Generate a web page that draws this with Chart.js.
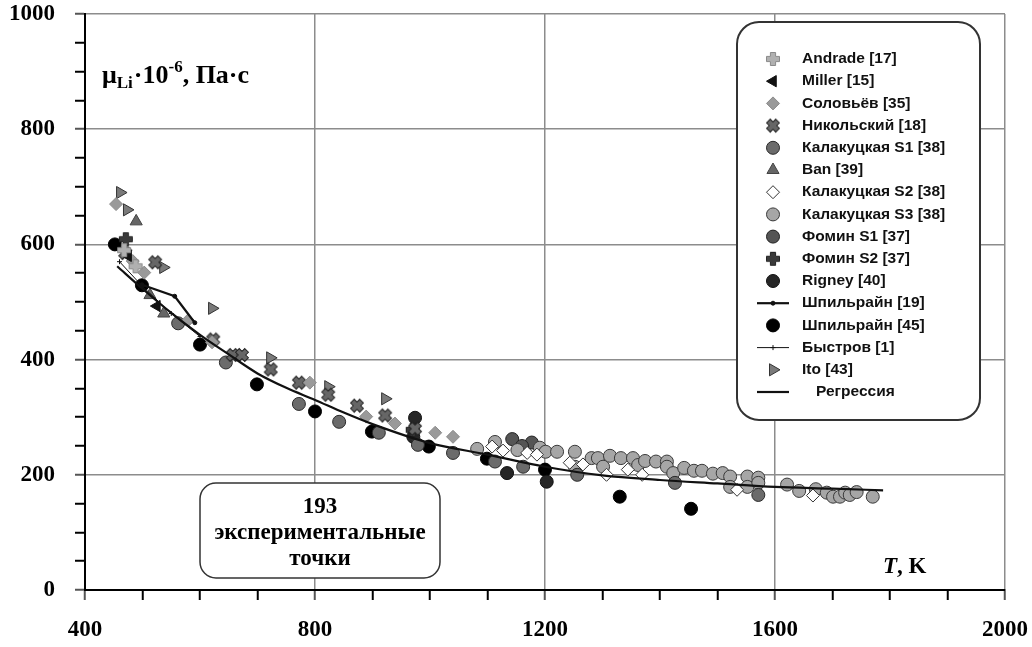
<!DOCTYPE html>
<html><head><meta charset="utf-8">
<script src="https://cdn.jsdelivr.net/npm/chart.js@4.4.1/dist/chart.umd.min.js"></script>
<style>html,body{margin:0;padding:0;background:#fff}canvas{display:block}</style>
</head><body>
<canvas id="c" width="1032" height="647"></canvas>
<script>
// ---- data (T in K, viscosity in 10^-6 Pa·s) ----
const xTicks = [400, 800, 1200, 1600, 2000];
const yTicks = [0, 200, 400, 600, 800, 1000];

const andradeT = [468, 488];
const andradeMu = [590, 562];
const millerT = [475, 525];
const millerMu = [580, 493];
const solovT = [454, 483, 503, 579, 621, 791, 889, 939, 1009, 1040];
const solovMu = [670, 571, 551, 468, 430, 360, 301, 289, 273, 266];
const nikolT = [470, 522, 623, 657, 673, 723, 772, 823, 873, 922, 974];
const nikolMu = [585, 569, 435, 408, 408, 383, 360, 339, 320, 303, 280];
const kal1T = [562, 645, 772, 842, 911, 979, 1040, 1113, 1162, 1256, 1426, 1571];
const kal1Mu = [463, 395, 323, 292, 273, 252, 238, 223, 214, 200, 186, 165];
const banT = [489, 513, 537];
const banMu = [640, 512, 480];
const kal2T = [1108, 1127, 1169, 1186, 1243, 1266, 1307, 1344, 1369, 1534, 1666];
const kal2Mu = [249, 242, 238, 235, 221, 218, 200, 209, 200, 174, 164];
const kal3T = [1082, 1113, 1152, 1191, 1201, 1221, 1252, 1252, 1281, 1292, 1301, 1313, 1332, 1353, 1362, 1374, 1393, 1412, 1412, 1423, 1442, 1459, 1473, 1492, 1509, 1522, 1522, 1552, 1552, 1571, 1571, 1621, 1642, 1671, 1690, 1701, 1713, 1722, 1730, 1742, 1770];
const kal3Mu = [245, 257, 243, 247, 240, 240, 240, 214, 229, 229, 214, 233, 229, 229, 217, 224, 223, 223, 214, 203, 212, 207, 207, 202, 203, 197, 179, 197, 179, 195, 186, 183, 172, 175, 169, 162, 162, 169, 165, 170, 162];
const fomin1T = [1143, 1177, 1160];
const fomin1Mu = [262, 256, 250];
const fomin2T = [471, 970];
const fomin2Mu = [609, 278];
const rigneyT = [974, 971, 1134, 1203];
const rigneyMu = [299, 266, 203, 188];
const shp19T = [499, 556, 591];
const shp19Mu = [530, 510, 464];
const shp45T = [452, 499, 600, 699, 800, 899, 998, 1099, 1200, 1330, 1454];
const shp45Mu = [600, 529, 426, 357, 310, 275, 249, 228, 209, 162, 141];
const bystrT = [460, 500, 550, 600];
const bystrMu = [570, 527, 480, 440];
const itoT = [461, 473, 536, 621, 722, 823, 922];
const itoMu = [690, 660, 560, 489, 403, 353, 332];
const regT = [456, 500, 550, 600, 650, 700, 750, 800, 850, 900, 1000, 1100, 1200, 1300, 1400, 1500, 1600, 1700, 1788];
const regMu = [562, 523, 481, 443, 409, 376, 351, 330, 308, 288, 255, 235, 214, 199, 191, 185, 179, 176, 173];

const labels = ['Andrade [17]','Miller [15]','Соловьёв [35]','Никольский [18]','Калакуцкая S1 [38]','Ban [39]','Калакуцкая S2 [38]','Калакуцкая S3 [38]','Фомин S1 [37]','Фомин S2 [37]','Rigney [40]','Шпильрайн [19]','Шпильрайн [45]','Быстров [1]','Ito [43]','Регрессия'];

function pts(xs, ys){ return xs.map((x,i)=>({x:x, y:ys[i]})); }

function plusCanvas(fill, stroke, rot){
  const s = 16, c = document.createElement('canvas'); c.width = s; c.height = s;
  const g = c.getContext('2d');
  g.translate(s/2, s/2); g.rotate(rot);
  const a = 6.5, w = 2.6;
  g.beginPath();
  g.moveTo(-w,-a); g.lineTo(w,-a); g.lineTo(w,-w); g.lineTo(a,-w); g.lineTo(a,w); g.lineTo(w,w);
  g.lineTo(w,a); g.lineTo(-w,a); g.lineTo(-w,w); g.lineTo(-a,w); g.lineTo(-a,-w); g.lineTo(-w,-w); g.closePath();
  g.fillStyle = fill; g.fill();
  g.lineWidth = 1; g.strokeStyle = stroke; g.stroke();
  return c;
}
const plusLight = plusCanvas('#b0b0b0', '#8a8a8a', 0);
const plusDark = plusCanvas('#3a3a3a', '#222', 0);
const xMark = plusCanvas('#666', '#222', Math.PI/4);

function ds(label, xs, ys, o){
  return Object.assign({label, data: pts(xs, ys), showLine:false, order:1, pointRadius:6.5, pointBorderWidth:1, pointBorderColor:'#333'}, o);
}

const datasets = [
  ds(labels[0], andradeT, andradeMu, {pointStyle: plusLight, pointBackgroundColor:'#b0b0b0'}),
  ds(labels[1], millerT, millerMu, {pointStyle:'triangle', pointRotation:-90, pointBackgroundColor:'#111', pointBorderColor:'#111', pointRadius:6.5}),
  ds(labels[2], solovT, solovMu, {pointStyle:'rectRot', pointBackgroundColor:'#9a9a9a', pointBorderColor:'#8a8a8a', pointRadius:6.5}),
  ds(labels[3], nikolT, nikolMu, {pointStyle: xMark, pointBackgroundColor:'#666'}),
  ds(labels[4], kal1T, kal1Mu, {pointStyle:'circle', pointBackgroundColor:'#6b6b6b', pointBorderColor:'#2a2a2a'}),
  ds(labels[5], banT, banMu, {pointStyle:'triangle', pointBackgroundColor:'#666', pointBorderColor:'#444', pointRadius:7}),
  ds(labels[6], kal2T, kal2Mu, {pointStyle:'rectRot', pointBackgroundColor:'#fff', pointBorderColor:'#333', pointRadius:6.5}),
  ds(labels[7], kal3T, kal3Mu, {pointStyle:'circle', pointBackgroundColor:'#a6a6a6', pointBorderColor:'#3a3a3a'}),
  ds(labels[8], fomin1T, fomin1Mu, {pointStyle:'circle', pointBackgroundColor:'#555', pointBorderColor:'#222'}),
  ds(labels[9], fomin2T, fomin2Mu, {pointStyle: plusDark, pointBackgroundColor:'#3a3a3a'}),
  ds(labels[10], rigneyT, rigneyMu, {pointStyle:'circle', pointBackgroundColor:'#262626', pointBorderColor:'#111'}),
  ds(labels[11], shp19T, shp19Mu, {showLine:true, borderColor:'#111', borderWidth:2.2, pointStyle:'circle', pointRadius:2, pointBackgroundColor:'#111', pointBorderColor:'#111', order:0}),
  ds(labels[12], shp45T, shp45Mu, {pointStyle:'circle', pointBackgroundColor:'#000', pointBorderColor:'#000'}),
  ds(labels[13], bystrT, bystrMu, {showLine:true, borderColor:'#111', borderWidth:1, pointStyle:'cross', pointRadius:2.5, pointBorderColor:'#111', order:0}),
  ds(labels[14], itoT, itoMu, {pointStyle:'triangle', pointRotation:90, pointBackgroundColor:'#7a7a7a', pointBorderColor:'#333', pointRadius:7}),
  ds(labels[15], regT, regMu, {showLine:true, borderColor:'#111', borderWidth:2.2, pointRadius:0, cubicInterpolationMode:'monotone', order:0})
];

function roundRect(ctx, x, y, w, h, r){
  ctx.beginPath();
  ctx.moveTo(x+r, y); ctx.lineTo(x+w-r, y); ctx.arcTo(x+w, y, x+w, y+r, r);
  ctx.lineTo(x+w, y+h-r); ctx.arcTo(x+w, y+h, x+w-r, y+h, r);
  ctx.lineTo(x+r, y+h); ctx.arcTo(x, y+h, x, y+h-r, r);
  ctx.lineTo(x, y+r); ctx.arcTo(x, y, x+r, y, r); ctx.closePath();
}

const annot = {
  id:'annot',
  afterDraw(chart){
    const ctx = chart.ctx;
    ctx.save();
    // y axis title
    ctx.fillStyle = '#000'; ctx.textBaseline = 'alphabetic'; ctx.textAlign = 'left';
    let x = 102, b = 83;
    const big = 'bold 26px "Liberation Serif"', small = 'bold 17px "Liberation Serif"';
    ctx.font = big; ctx.fillText('μ', x, b); x += ctx.measureText('μ').width;
    ctx.font = small; ctx.fillText('Li', x, b+5); x += ctx.measureText('Li').width + 1;
    ctx.font = big; ctx.fillText('·10', x, b); x += ctx.measureText('·10').width;
    ctx.font = small; ctx.fillText('-6', x, b-11); x += ctx.measureText('-6').width;
    ctx.font = big; ctx.fillText(', Па·с', x, b);
    // T, K
    x = 883; b = 573;
    ctx.font = 'italic bold 23px "Liberation Serif"'; ctx.fillText('T', x, b); x += ctx.measureText('T').width;
    ctx.font = 'bold 23px "Liberation Serif"'; ctx.fillText(', K', x, b);
    // text box
    roundRect(ctx, 200, 483, 240, 95, 16);
    ctx.fillStyle = '#fff'; ctx.fill(); ctx.lineWidth = 1.5; ctx.strokeStyle = '#333'; ctx.stroke();
    ctx.fillStyle = '#000'; ctx.textAlign = 'center'; ctx.font = 'bold 23px "Liberation Serif"';
    ctx.fillText('193', 320, 513);
    ctx.fillText('экспериментальные', 320, 539);
    ctx.fillText('точки', 320, 565);
    // legend box
    roundRect(ctx, 737, 22, 243, 398, 22);
    ctx.fillStyle = '#fff'; ctx.fill(); ctx.lineWidth = 2; ctx.strokeStyle = '#333'; ctx.stroke();
    ctx.textAlign = 'left'; ctx.textBaseline = 'middle';
    ctx.font = 'bold 15.5px "Liberation Sans"';
    const mx = 773, tx = 802, y0 = 59, dy = 22.2;
    chart.data.datasets.forEach((d, i) => {
      const y = y0 + i*dy;
      ctx.save();
      if (d.showLine) {
        ctx.strokeStyle = d.borderColor; ctx.lineWidth = d.borderWidth;
        ctx.beginPath(); ctx.moveTo(757, y); ctx.lineTo(789, y); ctx.stroke();
      }
      if (d.pointRadius > 0) {
        ctx.fillStyle = d.pointBackgroundColor || '#000';
        ctx.strokeStyle = d.pointBorderColor; ctx.lineWidth = d.pointBorderWidth;
        Chart.helpers.drawPoint(ctx, {pointStyle: d.pointStyle, radius: d.pointRadius, rotation: d.pointRotation || 0, borderWidth: d.pointBorderWidth}, mx, y);
      }
      ctx.restore();
      ctx.fillStyle = '#111';
      ctx.fillText(d.label, i === 15 ? 816 : tx, y);
    });
    ctx.restore();
  }
};

const tickFont = {family:'"Liberation Serif"', size:23, weight:'bold'};

new Chart(document.getElementById('c'), {
  type:'scatter',
  data:{datasets},
  plugins:[annot],
  options:{
    responsive:false, animation:false,
    layout:{padding:{left:0, right:0, top:0, bottom:0}},
    plugins:{legend:{display:false}, tooltip:{enabled:false}},
    scales:{
      x:{
        type:'linear', min:xTicks[0], max:xTicks[xTicks.length-1],
        afterBuildTicks(s){ const t=[]; for(let v=xTicks[0]; v<=xTicks[xTicks.length-1]; v+=100) t.push({value:v}); s.ticks=t; },
        afterFit(s){ s.height = 57; s.paddingRight = 27; },
        ticks:{autoSkip:false, maxRotation:0, color:'#000', font:tickFont, padding:16,
          callback:(v)=> xTicks.includes(v) ? String(v) : ''},
        grid:{color:(c)=> (c.tick && xTicks.includes(c.tick.value)) ? '#8c8c8c' : 'rgba(0,0,0,0)', lineWidth:1.5,
          tickColor:(c)=> (c.tick && xTicks.includes(c.tick.value)) ? '#555' : '#000', tickLength:10, tickWidth:2},
        border:{color:'#000', width:2}
      },
      y:{
        min:yTicks[0], max:yTicks[yTicks.length-1],
        afterBuildTicks(s){ const t=[]; for(let v=yTicks[0]; v<=yTicks[yTicks.length-1]; v+=50) t.push({value:v}); s.ticks=t; },
        afterFit(s){ s.width = 85; s.paddingTop = 14; },
        ticks:{autoSkip:false, color:'#000', font:tickFont, padding:20,
          callback:(v)=> yTicks.includes(v) ? String(v) : ''},
        grid:{color:(c)=> (c.tick && yTicks.includes(c.tick.value)) ? '#8c8c8c' : 'rgba(0,0,0,0)', lineWidth:1.5,
          tickColor:(c)=> (c.tick && yTicks.includes(c.tick.value)) ? '#555' : '#000', tickLength:10, tickWidth:2},
        border:{color:'#000', width:2}
      }
    }
  }
});
</script>
</body></html>
